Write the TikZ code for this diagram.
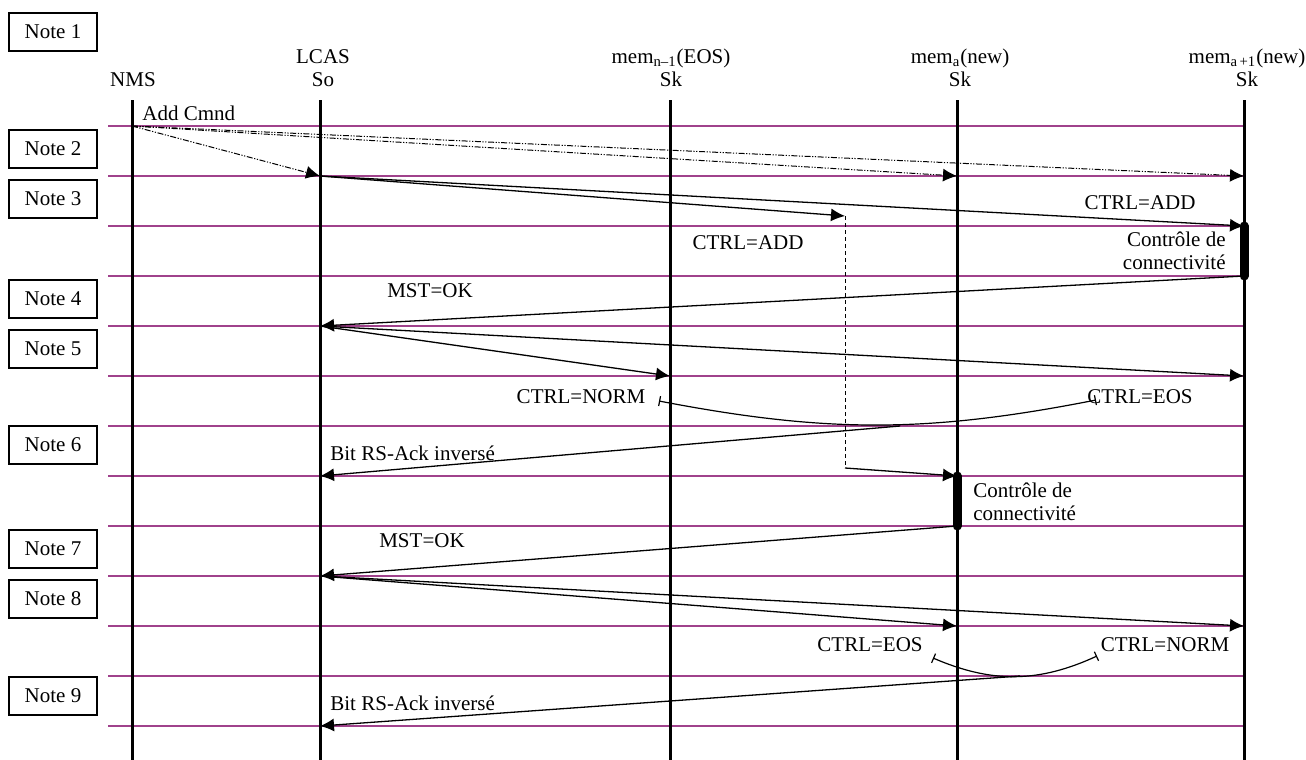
\documentclass[tikz,border=0pt]{standalone}
\usepackage{fontspec}
\setmainfont{Liberation Serif}
\usetikzlibrary{arrows.meta}
\definecolor{rowpurple}{RGB}{160,66,140}
\tikzset{
  lifeline/.style={line width=1.5pt},
  rowline/.style={rowpurple, line width=1.1pt},
  msg/.style={->, line width=0.65pt},
  cmd/.style={->, line width=0.5pt, dash pattern=on 3pt off 0.8pt on 0.6pt off 0.8pt on 0.6pt off 0.8pt},
  notebox/.style={draw, line width=0.6pt, minimum width=44pt, minimum height=19pt, inner sep=0pt},
  actbar/.style={line width=4.5pt, line cap=round},
  swap/.style={{Bar[width=5pt]}-{Bar[width=5pt]}, line width=0.6pt},
}
\begin{document}
\begin{tikzpicture}[x=0.5pt, y=-0.5pt, >={Latex[length=7pt,width=6.5pt]},
    font=\fontsize{10.5}{11.5}\selectfont, inner sep=0pt]
  \useasboundingbox (0,0) rectangle (1306,760);

  \foreach \n/\x in {left/108, nms/132, lcas/320, memn/670, mema/957, memb/1244} {
    \coordinate (\n-t) at (\x,100);
    \coordinate (\n-b) at (\x,760);
    \foreach \r in {1,...,13}
      \coordinate (\n-\r) at (\x,76+50*\r);
  }

  \foreach \r in {1,...,13}
    \draw[rowline] (left-\r) -- (memb-\r);
  \foreach \n in {nms,lcas,memn,mema,memb}
    \draw[lifeline] (\n-t) -- (\n-b);

  \node[anchor=south] (nms-lbl) at (133,87) {NMS};
  \node[anchor=south, align=center] (lcas-lbl) at (323,87) {LCAS\\So};
  \node[anchor=south, align=center] (memn-lbl) at (671,87) {mem\textsubscript{n–1}(EOS)\\Sk};
  \node[anchor=south, align=center] (mema-lbl) at (960,87) {mem\textsubscript{a}(new)\\Sk};
  \node[anchor=south, align=center] (memb-lbl) at (1247,87) {mem\textsubscript{a\,+1}(new)\\Sk};

  \node[notebox] (note1) at (53,32) {Note 1};
  \node[notebox] (note2) at (53,149) {Note 2};
  \node[notebox] (note3) at (53,199) {Note 3};
  \node[notebox] (note4) at (53,299) {Note 4};
  \node[notebox] (note5) at (53,349) {Note 5};
  \node[notebox] (note6) at (53,445) {Note 6};
  \node[notebox] (note7) at (53,549) {Note 7};
  \node[notebox] (note8) at (53,599) {Note 8};
  \node[notebox] (note9) at (53,696) {Note 9};

  \draw[cmd] (nms-1) -- (lcas-2);
  \draw[cmd] (nms-1) -- (mema-2);
  \draw[cmd] (nms-1) -- (memb-2);
  \node[anchor=base west] (addcmnd) at (142,120) {Add Cmnd};

  \coordinate (ctl) at (845,216);
  \coordinate (ctl-b) at (845,468);
  \draw[msg] (lcas-2) -- (ctl);
  \draw[msg] (lcas-2) -- (memb-3);
  \node (add1) at (1140,203) {CTRL=ADD};
  \node (add2) at (748,243) {CTRL=ADD};
  \draw[actbar] (memb-3) -- (memb-4);
  \node[anchor=east, align=right] (conn1) at (1226,251) {Contrôle de\\connectivité};

  \draw[msg] (memb-4) -- (lcas-5);
  \node (mst1) at (430,291) {MST=OK};
  \draw[msg] (lcas-5) -- (memn-6);
  \draw[msg] (lcas-5) -- (memb-6);

  \coordinate (norm1) at (659,401);
  \coordinate (eos1) at (1096,400);
  \draw[swap] (norm1) to[bend right=11] (eos1);
  \node (normlbl1) at (581,397) {CTRL=NORM};
  \node (eoslbl1) at (1140,397) {CTRL=EOS};
  \coordinate (ack1) at (900,426);
  \draw[msg] (ack1) -- (lcas-8);
  \node[anchor=west] (ack1lbl) at (330,453) {Bit RS-Ack inversé};

  \draw[dashed, dash pattern=on 2pt off 1.5pt, line width=0.5pt] (ctl) -- (ctl-b);
  \draw[msg] (ctl-b) -- (mema-8);
  \draw[actbar] (mema-8) -- (mema-9);
  \node[anchor=west, align=left] (conn2) at (973,502) {Contrôle de\\connectivité};

  \draw[msg] (mema-9) -- (lcas-10);
  \node (mst2) at (422,541) {MST=OK};
  \draw[msg] (lcas-10) -- (mema-11);
  \draw[msg] (lcas-10) -- (memb-11);

  \coordinate (eos2) at (933,658);
  \coordinate (norm2) at (1097,656);
  \draw[swap] (eos2) to[bend right=24] (norm2);
  \node (eoslbl2) at (870,645) {CTRL=EOS};
  \node (normlbl2) at (1165,645) {CTRL=NORM};
  \coordinate (ack2) at (1020,676);
  \draw[msg] (ack2) -- (lcas-13);
  \node[anchor=west] (ack2lbl) at (330,703) {Bit RS-Ack inversé};
\end{tikzpicture}
\end{document}
